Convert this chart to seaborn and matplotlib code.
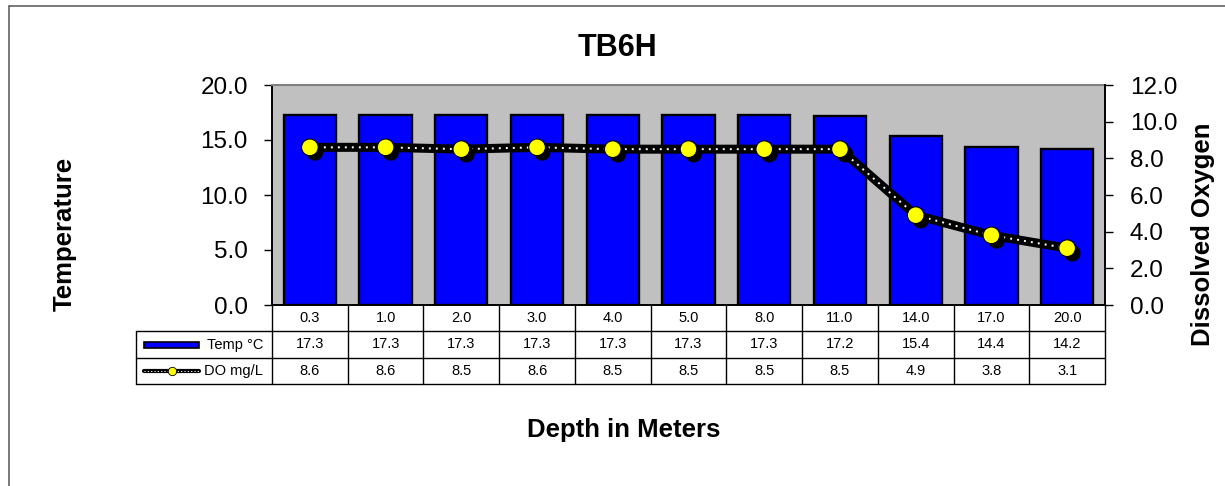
import numpy as np
import pandas as pd
import matplotlib
matplotlib.use("Agg")
import matplotlib.pyplot as plt
import seaborn as sns
from matplotlib import patheffects as pe
from matplotlib.patches import Rectangle
from matplotlib.lines import Line2D
import matplotlib.transforms as mtransforms

# ---------------- data ----------------
depths = ["0.3", "1.0", "2.0", "3.0", "4.0", "5.0", "8.0", "11.0", "14.0", "17.0", "20.0"]
temp_c = [17.3, 17.3, 17.3, 17.3, 17.3, 17.3, 17.3, 17.2, 15.4, 14.4, 14.2]
do_mgl = [8.6, 8.6, 8.5, 8.6, 8.5, 8.5, 8.5, 8.5, 4.9, 3.8, 3.1]
temp_ticks = [0, 5, 10, 15, 20]
do_ticks = [0, 2, 4, 6, 8, 10, 12]
title = "TB6H"
x_title = "Depth in Meters"
y_left_title = "Temperature"
y_right_title = "Dissolved Oxygen"
temp_name = "Temp °C"
do_name = "DO mg/L"

# ---------------- style ----------------
sns.set_theme(style="white")
plt.rcParams["font.family"] = ["Liberation Sans", "DejaVu Sans"]
plt.rcParams["text.color"] = "black"

W, H = 1225, 486
fig = plt.figure(figsize=(W / 100, H / 100), dpi=100)
fig.patch.set_facecolor("white")

# plot area (pixels): x 272..1105, y 85..305
ax = fig.add_axes([272 / W, (H - 305) / H, 833 / W, 220 / H])
df = pd.DataFrame({"Depth": depths, "Temp": temp_c, "DO": do_mgl})

sns.barplot(data=df, x="Depth", y="Temp", ax=ax, color="#0000FF", saturation=1,
            width=0.69, edgecolor="black", linewidth=1.7, errorbar=None, zorder=2)
ax.set_facecolor("#C0C0C0")
ax.set_xlim(-0.5, len(depths) - 0.5)
ax.set_ylim(temp_ticks[0], temp_ticks[-1])
ax.set_yticks(temp_ticks)
ax.set_yticklabels([f"{v:.1f}" for v in temp_ticks])
ax.set_xlabel("")
ax.set_ylabel("")
ax.tick_params(axis="y", left=True, length=5.8, width=1.0, color="black",
               direction="out", pad=11.5, labelsize=17.5, labelcolor="black")
ax.tick_params(axis="x", bottom=False, labelbottom=False)
for s in ["left", "bottom"]:
    ax.spines[s].set_color("black")
    ax.spines[s].set_linewidth(1.4)
ax.spines["top"].set_color("#808080")
ax.spines["top"].set_linewidth(1.5)
ax.spines["right"].set_visible(False)

# secondary axis for dissolved oxygen
ax2 = ax.twinx()
sns.pointplot(data=df, x="Depth", y="DO", ax=ax2, color="black", errorbar=None)
base = ax2.lines[-1]
xd, yd = base.get_data()
base.set_marker("")
base.set_linewidth(6.5)
base.set_color("black")
base.set_zorder(3)
base.set_solid_joinstyle("round")
ax2.plot(xd, yd, color="white", linewidth=1.4, linestyle=(0, (1, 2.6)), zorder=4)
ax2.plot(xd, yd, linestyle="none", marker="o", markersize=12, markerfacecolor="#FFFF00",
         markeredgecolor="black", markeredgewidth=0.8, zorder=5,
         path_effects=[pe.SimplePatchShadow(offset=(3.6, -3.6), shadow_rgbFace="black", alpha=1.0),
                       pe.Normal()])
ax2.set_xlim(-0.5, len(depths) - 0.5)
ax2.set_ylim(do_ticks[0], do_ticks[-1])
ax2.set_yticks(do_ticks)
ax2.set_yticklabels([f"{v:.1f}" for v in do_ticks])
ax2.set_xlabel("")
ax2.set_ylabel("")
ax2.tick_params(axis="y", right=True, left=False, labelright=True, labelleft=False,
                length=5.8, width=1.0, color="black", direction="out", pad=12,
                labelsize=17.5, labelcolor="black")
ax2.tick_params(axis="x", bottom=False, labelbottom=False)
for s in ["left", "top", "bottom"]:
    ax2.spines[s].set_visible(False)
ax2.spines["right"].set_color("black")
ax2.spines["right"].set_linewidth(1.4)

# ---------------- data table ----------------
ta = ax.transAxes
ph = 220.0
r1, r2, r3 = -26 / ph, -53 / ph, -79 / ph
left_edge = -136 / 833
lc = "black"
lw = 1.0
n = len(depths)
for k in range(n + 1):
    ax.add_line(Line2D([k / n, k / n], [0, r3], transform=ta, color=lc, lw=lw, clip_on=False))
ax.add_line(Line2D([left_edge, left_edge], [r1, r3], transform=ta, color=lc, lw=lw, clip_on=False))
for yy in (r1, r2, r3):
    ax.add_line(Line2D([left_edge, 1], [yy, yy], transform=ta, color=lc, lw=lw, clip_on=False))

blend = mtransforms.blended_transform_factory(ax.transData, ax.transAxes)
fs_tab = 10.5
for i, (d, t, o) in enumerate(zip(depths, temp_c, do_mgl)):
    ax.text(i, (0 + r1) / 2, d, transform=blend, ha="center", va="center", fontsize=fs_tab, color="black")
    ax.text(i, (r1 + r2) / 2, f"{t:.1f}", transform=blend, ha="center", va="center", fontsize=fs_tab, color="black")
    ax.text(i, (r2 + r3) / 2, f"{o:.1f}", transform=blend, ha="center", va="center", fontsize=fs_tab, color="black")

lab_x = -9 / 833
ax.text(lab_x, (r1 + r2) / 2, temp_name, transform=ta, ha="right", va="center", fontsize=fs_tab, color="black")
ax.text(lab_x, (r2 + r3) / 2, do_name, transform=ta, ha="right", va="center", fontsize=fs_tab, color="black")

# legend keys
key_x0, key_x1 = (144 - 272) / 833, (199 - 272) / 833
ymid2 = (r1 + r2) / 2
ax.add_patch(Rectangle((key_x0, ymid2 - 3 / ph), key_x1 - key_x0, 6 / ph, transform=ta,
                       facecolor="#0000FF", edgecolor="black", lw=1.2, clip_on=False))
ymid3 = (r2 + r3) / 2
ax.add_line(Line2D([key_x0, key_x1], [ymid3, ymid3], transform=ta, color="black", lw=3.0, clip_on=False))
ax.add_line(Line2D([key_x0, key_x1], [ymid3, ymid3], transform=ta, color="white", lw=0.8,
                   linestyle=(0, (1, 2)), clip_on=False))
ax.add_line(Line2D([(key_x0 + key_x1) / 2], [ymid3], transform=ta, linestyle="none", marker="o",
                   markersize=6, markerfacecolor="#FFFF00", markeredgecolor="black",
                   markeredgewidth=0.6, clip_on=False))

# ---------------- titles ----------------
fig.text(617 / W, 1 - 48 / H, title, ha="center", va="center", fontsize=22, fontweight="bold",
         color="black")
fig.text(624 / W, 1 - 430 / H, x_title, ha="center", va="center", fontsize=18.5, fontweight="bold",
         color="black")
fig.text(65 / W, 1 - 234 / H, y_left_title, ha="center", va="center", rotation=90,
         fontsize=18.5, fontweight="bold", color="black")
fig.text(1203 / W, 1 - 234 / H, y_right_title, ha="center", va="center", rotation=90,
         fontsize=18.5, fontweight="bold", color="black")

# chart frame (partially cropped in original)
fig.add_artist(Line2D([8.5 / W, 8.5 / W], [0, 1 - 6.5 / H], transform=fig.transFigure,
                      color="#555555", lw=1.1))
fig.add_artist(Line2D([8.5 / W, 1], [1 - 6.5 / H, 1 - 6.5 / H], transform=fig.transFigure,
                      color="#555555", lw=1.1))

fig.savefig("out.png", dpi=100)
